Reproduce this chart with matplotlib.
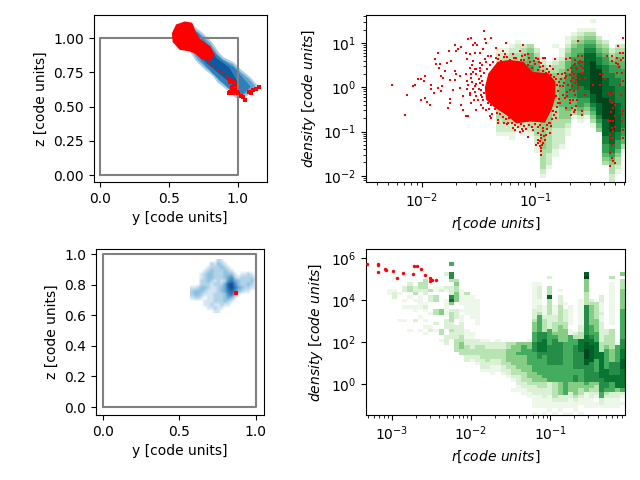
import numpy as np
import matplotlib
matplotlib.use("Agg")
import matplotlib.pyplot as plt
from matplotlib.colors import LinearSegmentedColormap

# ---------- top-left projection (y, z) ----------
tl_outer_y = [.678,.751,.811,.86,.897,.97,1.018,1.091,1.14,1.067,.994,.921,.86,.824,.763,.702,.65,.62]
tl_outer_z = [1.082,1.022,.961,.888,.851,.815,.766,.705,.649,.584,.567,.632,.681,.73,.778,.839,.92,1.0]
tl_mid_y = [.702,.775,.836,.89,.97,1.03,1.085,1.03,.97,.897,.824,.751,.678]
tl_mid_z = [1.037,.951,.878,.83,.78,.71,.645,.59,.61,.68,.745,.83,.927]
tl_dark_y = [.714,.787,.848,.933,.982,1.006,.958,.872,.799,.726]
tl_dark_z = [.976,.915,.842,.781,.696,.635,.672,.745,.805,.878]
tl_red_blob_y = [.527,.556,.617,.666,.69,.726,.799,.829,.799,.739,.697,.653,.58,.532]
tl_red_blob_z = [1.034,1.095,1.116,1.107,1.046,.985,.936,.876,.839,.851,.888,.907,.919,.973]
tl_trail_y = [.787,.824,.86,.885,.926]
tl_trail_z = [.815,.79,.766,.742,.717]
tl_red_y = [.945,.945,.97,.982,.958,.982,.945,.97,.94,1.006,1.023,1.043,1.055,.994,1.087,1.11,1.135,1.16,1.096,.97,.958]
tl_red_z = [.698,.681,.681,.657,.644,.62,.608,.596,.596,.596,.576,.567,.547,.608,.608,.62,.625,.639,.596,.62,.62]

# ---------- bottom-left projection (y, z) ----------
bl_density = [
 "00000000210000000000",
 "00000021321000000000",
 "00000122232100000000",
 "00001232223210000000",
 "00012332223331011210",
 "00012332223452122221",
 "00022321212564322231",
 "00022212224785322321",
 "11233211234786432211",
 "23332111234675321100",
 "23321112223563100000",
 "12210112223431000000",
 "00001112223210000000",
 "00001121121100000000",
 "00000112110000000000",
 "00000001100000000000",
]
bl_extent = [.569, 1.005, .612, .961]
bl_red_y = [.867]
bl_red_z = [.747]

# ---------- top-right phase plot: (first row, column values top to bottom) ----------
tr_columns = [
 (8,"122233333444333332221"),(8,"123334444444443333221"),(7,"12333444555544443332211"),
 (6,"1223345555555444433221"),(7,"2344555666655544432211"),(7,"3455566666555544433321"),
 (8,"2345556666555444433332211"),(10,"12344555566655554444443333321"),(11,"12344555555444443333332221"),
 (7,"100123344444444333332222211"),(8,"112334455555554443322221"),(5,"112344555666666555443211"),
 (4,"123455667777776655431"),(3,"12345566777888777665421"),(3,"1345678888888887765431"),
 (1,"10134567889999999988765431"),(5,"23456778999999998887654"),(6,"234566777888889999988887766543"),
 (8,"23456677788889999999888776543322"),(7,"2345566677777788888887766543321"),(7,"23445566667777777777665531"),
]
tr_blob_logr = [-1.44,-1.41,-1.33,-1.226,-1.109,-1.03,-.89,-.83,-.83,-.86,-.92,-1.05,-1.168,-1.25,-1.36,-1.43]
tr_blob_logd = [-.015,.3,.56,.6,.56,.33,.3,.12,-.2,-.48,-.78,-.76,-.8,-.62,-.44,-.27]
tr_pts = [(-2.262,.06),(-2.129,-.166),(-2.153,-.619),(-2.079,.038),(-2.065,.06),(-2.035,.174),(-2.012,.196),(-1.976,.264),
 (-1.982,.136),(-2.012,-.294),(-1.976,-.249),(-1.953,-.34),(-1.932,-.392),(-1.918,.06),(-1.918,-.038),(-1.897,-.128),
 (-1.888,.626),(-1.862,.762),(-1.879,.513),(-1.85,.43),(-1.844,.513),(-1.835,.249),(-1.815,.211),(-1.859,-.015),(-1.821,.023),(-1.835,-.09),
 (-1.762,.815),(-1.712,.943),(-1.697,.815),(-1.682,.868),(-1.653,.913),(-1.75,-.264),(-1.771,-.475),(-1.756,-.355),(-1.8,.362),(-1.779,.551),
 (-1.741,.589),(-1.712,.362),(-1.697,.287),(-1.668,.249),(-1.756,.158),(-1.712,.158),(-1.726,-.053),(-1.668,-.015),(-1.638,-.189),(-1.653,-.392),
 (-1.615,-.642),(-1.594,-.657),(-1.638,-.506),(-1.594,1.094),(-1.565,1.117),(-1.535,1.004),(-1.55,.943),(-1.515,.943),(-1.456,1.26),(-1.447,1.079),
 (-1.388,1.117),(-1.435,1.004),(-1.609,.777),(-1.579,.74),(-1.535,.777),(-1.491,.777),(-1.462,.853),(-1.418,.702),(-1.603,.626),(-1.55,.589),
 (-1.491,.551),(-1.447,.626),(-1.579,.438),(-1.535,.4),(-1.491,.438),(-1.609,.287),(-1.565,.211),(-1.521,.287),(-1.476,.249),(-1.594,.06),
 (-1.535,.023),(-1.491,.098),(-1.579,-.128),(-1.521,-.204),(-1.476,-.166),(-1.565,-.355),(-1.521,-.521),(-1.476,-.392),(-1.432,-.506),(-1.388,-.694),
 (-1.329,-.808),(-1.241,-.808),(-1.182,-.958),(-1.109,-.996),(-1.065,-1.125),(-1.021,-.958),(-1.256,1.004),(-1.344,.891),(-1.285,.815),(-1.138,.815),
 (-1.109,.943),(-1.065,.74),(-.991,.664),(-.932,.664),
 (-.991,-1.298),(-.962,-1.336),(-.947,-1.449),(-.932,-1.26),(-.918,-1.185),(-.976,-1.185),(-.947,-1.147),(-.903,-1.072),(-.874,-1.034),(-.932,-.996),
 (-.859,-.883),(-.874,-.808),(-.976,-1.034),(-.947,-1.525),(-.96,-1.22),(-.94,-1.3),(-.925,-1.1),(-.955,-1.08),(-.9,-.94),(-.98,-1.26),(-.95,-1.38),
 (-.8,.287),(-.771,.174),(-.741,.325),(-.785,.023),(-.756,-.166),(-.712,.06),(-.727,.249),(-.683,.438),(-.653,.513),(-.624,.702),(-.594,.702),
 (-.638,.4),(-.668,.211),(-.609,.174),(-.697,-.053),(-.653,.098),(-.579,.438),(-.565,.211),(-.624,-.015),(-.653,-.166),(-.697,-.355),(-.727,-.468),
 (-.683,-.619),(-.653,-.506),(-.588,-.543),(-.594,-.619),(-.565,-.166),(-.785,-.355),(-.624,1.042),(-.697,.664),(-.727,.626),(-.829,.626),(-.874,.475),
 (-.918,.664),(-.977,.626),(-.933,.475),(-.844,.4),(-.903,.325),(-.815,-.204),(-.844,-.543),
 (-.75,.1),(-.72,-.1),(-.69,.15),(-.66,.3),(-.63,.25),(-.6,.33),(-.71,.38),(-.74,-.25),(-.67,-.3),(-.64,-.42),(-.77,.3),(-.79,.12),(-.62,.55),(-.65,.62),(-.6,.48),
 (-.81,.06),(-.8,-.08),(-.76,.02),(-.74,.2),(-.72,-.2),(-.7,-.28),(-.68,.03),(-.66,-.08),(-.64,.16),(-.62,.08),(-.7,.27),(-.68,.34),(-.66,.5),(-.64,.44),(-.61,.6),(-.59,.56),(-.58,.33),(-.68,-.46),(-.66,-.55),(-.63,-.3),
 (-.491,.045),(-.432,.287),(-.403,.287),(-.432,.06),(-.388,.174),(-.374,.702),(-.329,.702),(-.329,.589),(-.344,-.166),(-.359,-.128),(-.315,-.128),(-.329,-.355),
 (-.315,-.468),(-.3,-.392),(-.344,-.77),(-.359,-.77),(-.315,-.77),(-.329,-.921),(-.315,-.996),(-.344,-1.072),(-.315,-1.147),(-.329,-1.298),(-.344,-1.487),
 (-.329,-1.6),(-.315,-1.675),(-.344,-1.789),(-.3,-1.713),(-.271,.928),(-.256,.777),(-.227,.777),(-.285,.664),(-.271,.513),(-.241,.325),(-.285,.325),(-.227,.136),
 (-.227,.664),(-.227,1.102),(-.227,-.543),(-.241,-.77),(-.227,-.958),(-.227,-1.147),(-.256,.06),(-.247,-.166),(-.33,-.55),(-.3,-.65),(-.3,-.9),(-.33,-1.15),
 (-.26,.45),(-.29,.55),(-.34,-.3),(-.25,.62),(-.24,-.6),
 # fringe of the dense cloud
 (-1.45,.33),(-1.43,.42),(-1.4,.5),(-1.37,.58),(-1.35,.66),(-1.32,.72),(-1.3,.6),(-1.27,.76),(-1.25,.68),(-1.22,.62),(-1.2,.74),(-1.17,.66),(-1.15,.58),(-1.12,.7),(-1.1,.62),(-1.07,.5),(-1.05,.58),(-1.03,.44),(-1.0,.52),(-.98,.38),(-.96,.46),(-.93,.36),(-.9,.42),(-.88,.35),(-.86,.28),(-.84,.24),(-.82,.18),
 (-1.39,.7),(-1.33,.63),(-1.28,.68),(-1.19,.66),(-1.13,.62),(-1.09,.72),(-1.01,.6),(-.95,.54),(-.97,.58),(-1.06,.66),
 (-1.47,.14),(-1.46,.04),(-1.48,-.07),(-1.45,-.14),(-1.47,-.22),(-1.5,.18),(-1.52,.08),(-1.5,-.04),(-1.53,-.1),(-1.51,-.28),(-1.46,-.3),(-1.49,.36),(-1.52,.42),(-1.55,.35),(-1.56,.12),(-1.55,-.03),(-1.58,-.18),(-1.54,-.3),(-1.57,.3),(-1.6,.15),(-1.6,-.05),(-1.56,.5),(-1.47,.5),(-1.44,.56),
 (-1.42,-.35),(-1.39,-.4),(-1.41,-.5),(-1.36,-.5),(-1.34,-.58),(-1.38,-.6),(-1.31,-.6),(-1.29,-.68),(-1.33,-.74),(-1.26,-.72),(-1.23,-.7),(-1.25,-.84),(-1.21,-.8),(-1.18,-.86),(-1.15,-.9),(-1.2,-.92),(-1.13,-.84),(-1.1,-.88),(-1.08,-.94),(-1.06,-.85),(-1.03,-.9),(-1.0,-.84),(-.98,-.9),(-.96,-.85),(-.93,-.92),(-.9,-.86),(-.88,-.8),(-.85,-.72),(-.84,-.62),(-.82,-.55),(-.81,-.45),(-.8,-.36),(-.79,-.26),(-.82,-.7),(-1.14,-1.0),(-1.12,-.95),(-1.28,-.8),(-1.4,-.66),(-1.46,-.46),
]
tr_red_logr = [p[0] for p in tr_pts]
tr_red_logd = [p[1] for p in tr_pts]

# ---------- bottom-right phase plot: columns top to bottom, '.' = empty ----------
br_columns = {
 4:".......... ..11", 5:".........1 ..122", 6:".......... ...1...... .1", 7:".......... .22..1.1.. .1",
 8:".......... 233.1..1.. ....1", 9:".......... .223.1.11. .2", 10:".......... 332.1111.. 1...1",
 11:".........3 3322..121. .1.1.1", 12:".......... ..3.22...1 ...12", 13:".......... .11.33..33 ..2.1",
 14:".......... .12.....44 ....33.1..", 15:".......2.. .21..11111 .222..222.", 16:"....5..663 .222674.23 3322322...",
 17:".........3 433444..22 2..2222333 3", 18:".......... ..11111.1. 1122223344 33", 19:".......... ...3111111 ....111223 3322",
 20:".......... ....111111 1....11222 3321", 21:".......... .....11111 111....223 33221", 22:".......... .......... .......123 3332221",
 23:".......... .......... .......122 3333221", 24:".......... .......... ........22 33322111", 25:".......... .......... .......122 3332211",
 26:".......... .......... ........22 33333221", 27:".......... .......... ........33 444433221", 28:".......... .......... ........34 4444433321 ..1",
 29:".......... .......... ........44 4544443322 211", 30:".......... .......... ........45 5544444333 2211", 31:".......... .......... .......144 5555544443 32211",
 32:".......... 1111111122 2344455566 6555555444 32221111.1", 33:".......... 1222211223 5555566677 7665555544 33221111",
 34:".......... .......111 2333366777 7655555554 33222111.1", 35:"........2. .333833333 2222555556 6666655555 222211111",
 36:".......... .......111 2233345666 6666655555 33333211.1", 37:".......... ..1.222333 3334444466 6666655555 444422111.",
 38:".......... ......1.22 2233444455 5555555555 55552211.1", 39:".......... .......111 111.115555 5555555555 44422111.1",
 40:".......... .......... .....23556 6666665566 444432111", 41:".......... .....11111 1112233777 7666665555 4433211..1",
 42:".......894 4443333666 6666667788 9998866666 54411111", 43:".......... .....23444 4445556778 8888666666 44322111",
 44:".......... ......3333 3444455577 7775555666 43321.11", 45:".......... ....221112 1122222233 3777777776 66655221",
 46:".......... .......... ....223334 5555557777 66532111", 47:"........3. 1111111111 111.333333 4444666677 55522111",
 48:".......... .......... ........15 5555666677 77422111", 49:".......4.3 3344444455 5555555666 7778887777 77521.1",
}
br_levels = [0, .07, .17, .3, .45, .62, .74, .84, .92, 1.0]
br_red_logr = [-3.315,-3.177,-3.177,-3.177,-3.084,-3.076,-2.987,-2.933,-2.861,-2.735,-2.718,-2.685,-2.634,-2.58,-2.517,-2.517,-2.496,-2.445]
br_red_logd = [5.73,5.70,5.73,5.35,5.49,5.44,5.37,5.08,5.32,5.27,5.65,5.65,5.51,5.22,5.06,4.94,4.97,4.97]

blue_map = LinearSegmentedColormap.from_list("b", [(0, "#ffffff"), (.11, "#d3e5f3"), (.33, "#8fc1de"), (.55, "#4a90c4"), (.8, "#1c5fa5"), (1, "#08306b")])
fig = plt.figure(figsize=(6.4, 4.8), dpi=100)
W, H = 640.0, 480.0
def box(l, t, r, b):
    return [l / W, 1 - b / H, (r - l) / W, (b - t) / H]
ax1 = fig.add_axes(box(93.5, 15, 267, 182))
ax2 = fig.add_axes(box(366, 15, 625, 182))
ax3 = fig.add_axes(box(96, 249, 263.5, 415))
ax4 = fig.add_axes(box(366, 249, 625, 415))

def unit_box(ax):
    ax.plot([0, 1, 1, 0, 0], [0, 0, 1, 1, 0], color="gray", lw=1.5, zorder=3)

# top-left
ax1.fill(tl_outer_y, tl_outer_z, facecolor="#5fa3d0", edgecolor="#a9cde6", lw=1.5, zorder=1)
ax1.fill(tl_mid_y, tl_mid_z, color="#2f7fbb", lw=1.5, zorder=1.1)
ax1.fill(tl_dark_y, tl_dark_z, color="#0f5a9e", lw=1.5, zorder=1.2)
unit_box(ax1)
ax1.fill(tl_red_blob_y, tl_red_blob_z, color="red", lw=1, zorder=4)
ax1.scatter(tl_trail_y, tl_trail_z, s=4, c="red", marker="s", lw=0, zorder=4)
ax1.scatter(tl_red_y, tl_red_z, s=9, c="red", marker="s", lw=0, zorder=4)
ax1.set_xlim(-0.05, 1.215)
ax1.set_ylim(-0.051, 1.168)
ax1.set_xticks([0, .5, 1.0])
ax1.set_yticks([0, .25, .5, .75, 1.0])
ax1.set_yticklabels(["0.00", "0.25", "0.50", "0.75", "1.00"])
ax1.set_xlabel("y [code units]")
ax1.set_ylabel("z [code units]")

# bottom-left
grid = np.array([[int(c) for c in row] for row in bl_density], dtype=float)
ax3.imshow(grid, extent=bl_extent, origin="upper", cmap=blue_map, vmin=0, vmax=9, interpolation="bilinear", aspect="auto", zorder=1)
unit_box(ax3)
ax3.scatter(bl_red_y, bl_red_z, s=6, c="red", marker="s", lw=0, zorder=4)
ax3.set_xlim(-0.046, 1.05)
ax3.set_ylim(-0.052, 1.033)
ax3.set_xticks([0, .5, 1.0])
ax3.set_yticks([0, .2, .4, .6, .8, 1.0])
ax3.set_xlabel("y [code units]")
ax3.set_ylabel("z [code units]")

green = plt.get_cmap("Greens").copy()
green.set_bad((1, 1, 1, 0))

# top-right
tr_cols = len(tr_columns)
tr_r_edges = 10 ** (-1.347 + 0.05507 * np.arange(tr_cols + 1))
tr_d_edges = 10 ** (1.63 - 0.0942 * np.arange(41))
tr_grid = np.zeros((40, tr_cols))
for k, (start, col) in enumerate(tr_columns):
    for i, c in enumerate(col):
        if start + i < 40:
            tr_grid[start + i, k] = int(c)
ax2.pcolormesh(tr_r_edges, tr_d_edges, np.ma.masked_equal(tr_grid, 0), cmap=green, vmin=0, vmax=9, zorder=1)
ax2.fill(10 ** np.array(tr_blob_logr), 10 ** np.array(tr_blob_logd), color="red", lw=1, zorder=3)
ax2.scatter(10 ** np.array(tr_red_logr), 10 ** np.array(tr_red_logd), s=4, c="red", marker="s", lw=0, zorder=4)
ax2.set_xscale("log"); ax2.set_yscale("log")
ax2.set_xlim(10 ** -2.493, 10 ** -0.211)
ax2.set_ylim(10 ** -2.14, 10 ** 1.63)
ax2.set_xlabel(r"$r [code\ units]$")
ax2.set_ylabel(r"$density\ [code\ units]$")

# bottom-right
br_grid = np.zeros((50, 50))
for j, col in br_columns.items():
    col = col.replace(" ", "")
    for n, c in enumerate(col[:50]):
        if c != ".":
            br_grid[n, j] = br_levels[int(c)]
br_r_edges = 10 ** np.linspace(-3.324, -0.058, 51)
br_d_edges = 10 ** np.linspace(6.44, -1.46, 51)
ax4.pcolormesh(br_r_edges, br_d_edges, np.ma.masked_equal(br_grid, 0), cmap=green, vmin=0, vmax=1, zorder=1)
ax4.scatter(10 ** np.array(br_red_logr), 10 ** np.array(br_red_logd), s=6, c="red", marker="o", lw=0, zorder=4)
ax4.set_xscale("log"); ax4.set_yscale("log")
ax4.set_xlim(10 ** -3.324, 10 ** -0.058)
ax4.set_ylim(10 ** -1.46, 10 ** 6.44)
ax4.set_xlabel(r"$r [code\ units]$")
ax4.set_ylabel(r"$density\ [code\ units]$")

fig.savefig("out.png", dpi=100)
